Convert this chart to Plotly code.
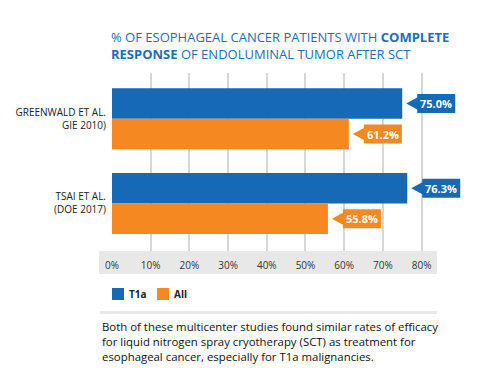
import plotly.graph_objects as go

# ---- data ----
studies = ["GREENWALD ET AL.<br>GIE 2010)", "TSAI ET AL.<br>(DOE 2017)"]
t1a_values = [75.0, 76.3]
all_values = [61.2, 55.8]
series_names = ["T1a", "All"]
x_ticks = [0, 10, 20, 30, 40, 50, 60, 70, 80]
x_tick_labels = ["0%", "10%", "20%", "30%", "40%", "50%", "60%", "70%", "80%"]
title_text = ("% OF ESOPHAGEAL CANCER PATIENTS WITH <b>COMPLETE</b><br>"
              "<b>RESPONSE</b> OF ENDOLUMINAL TUMOR AFTER SCT")
caption = ("Both of these multicenter studies found similar rates of efficacy<br>"
           "for liquid nitrogen spray cryotherapy (SCT) as treatment for<br>"
           "esophageal cancer, especially for T1a malignancies.")

BLUE = "#1569b5"
ORANGE = "#f58820"
TITLE_BLUE = "#1e6db8"
FONT = "Open Sans"

W, H = 477, 383
X_MAX = 92                     # axis extends past the last tick so callouts fit
UNIT = 3.871                   # px per percent in the reference
L, T, B = 112, 73, 132
R = round(W - L - X_MAX * UNIT)
PW, PH = W - L - R, H - T - B
BARGAP = 0.28


def px(xpix):
    return (xpix - L) / PW


def py(ypix):
    return (H - B - ypix) / PH


fig = go.Figure()
fig.add_trace(go.Bar(y=studies, x=t1a_values, orientation="h", name=series_names[0],
                     marker=dict(color=BLUE, line=dict(width=0)), showlegend=False))
fig.add_trace(go.Bar(y=studies, x=all_values, orientation="h", name=series_names[1],
                     marker=dict(color=ORANGE, line=dict(width=0)), showlegend=False))

shapes = []
annotations = []

# callout labels
half = (1 - BARGAP) / 4
callout_path = "M 4,0 L 15,6 L 15,9.5 L 53,9.5 L 53,-9.5 L 15,-9.5 L 15,-6 Z"
for i, _ in enumerate(studies):
    for vals, col, off in ((t1a_values, BLUE, -half), (all_values, ORANGE, half)):
        v = vals[i]
        yc = i + off
        shapes.append(dict(type="path", xref="x", yref="y", xsizemode="pixel", ysizemode="pixel",
                           xanchor=v, yanchor=yc, path=callout_path,
                           fillcolor=col, line=dict(width=0), layer="above"))
        annotations.append(dict(x=v, y=yc, xref="x", yref="y", xshift=34, showarrow=False,
                                text=f"<b>{v:.1f}%</b>", xanchor="center", yanchor="middle",
                                font=dict(family=FONT, size=11, color="white")))

# tick band
shapes.append(dict(type="rect", xref="paper", yref="paper", x0=px(99), x1=px(437),
                   y0=py(274), y1=py(251), fillcolor="#e8e8e8", line=dict(width=0), layer="below"))
# caption rule
shapes.append(dict(type="line", xref="paper", yref="paper", x0=px(100), x1=px(437),
                   y0=py(312.5), y1=py(312.5), line=dict(color="#e8e8e8", width=3)))

# legend swatches
for (x0, name, col) in ((112, series_names[0], BLUE), (157, series_names[1], ORANGE)):
    shapes.append(dict(type="rect", xref="paper", yref="paper", x0=px(x0), x1=px(x0 + 12),
                       y0=py(300), y1=py(288), fillcolor=col, line=dict(width=0)))
    annotations.append(dict(x=px(x0 + 15), y=py(294), xref="paper", yref="paper", showarrow=False,
                            text=f"<b>{name}</b>", xanchor="left", yanchor="middle",
                            font=dict(family=FONT, size=10, color="#222222")))

# title (two lines)
annotations.append(dict(x=px(109), y=py(45), xref="paper", yref="paper", showarrow=False,
                        text=title_text, xanchor="left", yanchor="middle", align="left",
                        font=dict(family=FONT, size=13, color=TITLE_BLUE)))

# caption
annotations.append(dict(x=px(100), y=py(317), xref="paper", yref="paper", showarrow=False,
                        text=caption, xanchor="left", yanchor="top", align="left",
                        font=dict(family=FONT, size=11.4, color="#111111")))

fig.update_layout(
    width=W, height=H,
    margin=dict(l=L, r=R, t=T, b=B, pad=0),
    paper_bgcolor="white", plot_bgcolor="white",
    barmode="group", bargap=BARGAP, bargroupgap=0,
    font=dict(family=FONT, size=10, color="#222222"),
    shapes=shapes, annotations=annotations,
    showlegend=False,
    xaxis=dict(range=[0, X_MAX], tickvals=x_ticks, ticktext=x_tick_labels,
               showgrid=True, gridcolor="#d6d6d6", gridwidth=1.5,
               zeroline=False, showline=False, ticks="", ticklabelstandoff=7,
               tickfont=dict(family=FONT, size=10, color="#333333"), fixedrange=True),
    yaxis=dict(range=[1.561, -0.541], showgrid=False, zeroline=False, showline=False,
               ticks="", ticklabelstandoff=5,
               tickfont=dict(family=FONT, size=10, color="#222222"), fixedrange=True),
)

fig.write_html("out.html", config={"displayModeBar": False},
               post_script="document.body.style.margin='0';")
